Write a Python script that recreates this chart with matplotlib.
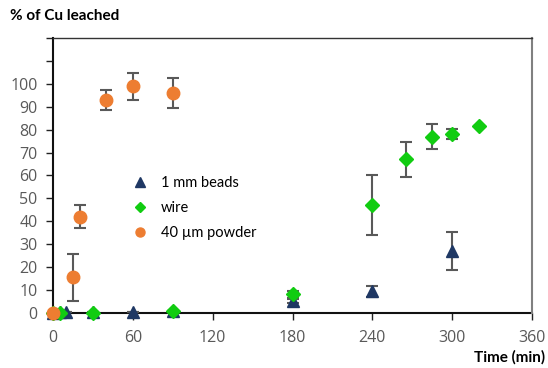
import matplotlib
matplotlib.use("Agg")
import matplotlib.pyplot as plt
from matplotlib.lines import Line2D

# Data
beads_t = [0, 5, 10, 30, 60, 90, 180, 240, 300]
beads_y = [0, 0.5, 0.5, 0.3, 0.6, 1.0, 5.3, 9.5, 27.0]
beads_e = [0, 0, 0, 0, 0, 0, 1.0, 2.5, 8.4]

wire_t = [0, 5, 30, 90, 180, 240, 265, 285, 300, 320]
wire_y = [0, 0, 0, 1.0, 8.2, 47.0, 67.0, 77.0, 78.2, 81.7]
wire_e = [0, 0, 0, 0, 1.5, 13.0, 7.5, 5.5, 2.3, 0]

powder_t = [0, 15, 20, 40, 60, 90]
powder_y = [0, 15.5, 42.0, 93.0, 99.0, 96.0]
powder_e = [0, 10.4, 5.0, 4.3, 5.9, 6.5]

labels = ["1 mm beads", "wire", "40 µm powder"]
colors = ["#1F3864", "#11CC11", "#ED7D31"]
xticks = [0, 60, 120, 180, 240, 300, 360]
yticks = list(range(0, 130, 10))
ylabels = [str(v) if v <= 100 else "" for v in yticks]

fig = plt.figure(figsize=(5.48, 3.68), dpi=100)
ax = fig.add_axes([53/548, 1-313/368, 479/548, 275/368])

err_kw = dict(ecolor="#595959", elinewidth=1.5, capsize=4, capthick=1.5, linestyle="none")
series = [
    (beads_t, beads_y, beads_e, "^", 9, 3),
    (wire_t, wire_y, wire_e, "D", 7.5, 4),
    (powder_t, powder_y, powder_e, "o", 9, 5),
]
for (t, y, e, m, ms, z), c in zip(series, colors):
    cont = ax.errorbar(t, y, yerr=e, marker=m, ms=ms, color=c, mec=c, zorder=z, **err_kw)
    cont[0].set_clip_on(False)
    for art in list(cont[1]) + list(cont[2]):
        art.set_clip_on(False)

ax.set_xlim(0, 360)
ax.set_ylim(0, 120)
ax.set_xticks(xticks)
ax.set_yticks(yticks)
ax.set_yticklabels(ylabels)
for lab in ax.get_xticklabels() + ax.get_yticklabels():
    lab.set_fontfamily("Open Sans")
    lab.set_fontsize(11.5)
    lab.set_color("#595959")
ax.tick_params(axis="both", direction="out", length=5, width=1, color="#222222")
ax.tick_params(axis="y", pad=6)
ax.tick_params(axis="x", pad=7)

for s in ["left", "bottom"]:
    ax.spines[s].set_color("#111111")
    ax.spines[s].set_linewidth(1.5)
    ax.spines[s].set_zorder(2)
ax.spines["top"].set_color("#333333")
ax.spines["top"].set_linewidth(1.0)
ax.spines["right"].set_color("#808080")
ax.spines["right"].set_linewidth(1.5)

handles = [
    Line2D([], [], marker="^", ls="none", ms=7, color=colors[0]),
    Line2D([], [], marker="D", ls="none", ms=5.5, color=colors[1]),
    Line2D([], [], marker="o", ls="none", ms=6.5, color=colors[2]),
]
leg = ax.legend(handles, labels, loc="upper left", bbox_to_anchor=(0.14, 0.545), frameon=False,
                prop={"family": "Lato", "size": 10.5}, handletextpad=0.9, labelspacing=0.75,
                handlelength=1.0)

fig.text(10/548, 1-16/368, "% of Cu leached", fontsize=11, fontweight="bold", family="Lato",
         ha="left", va="center", color="#000000")
fig.text(545/548, 1-357/368, "Time (min)", fontsize=11, fontweight="bold", family="Lato",
         ha="right", va="center", color="#000000")

fig.savefig("out.png", dpi=100)
